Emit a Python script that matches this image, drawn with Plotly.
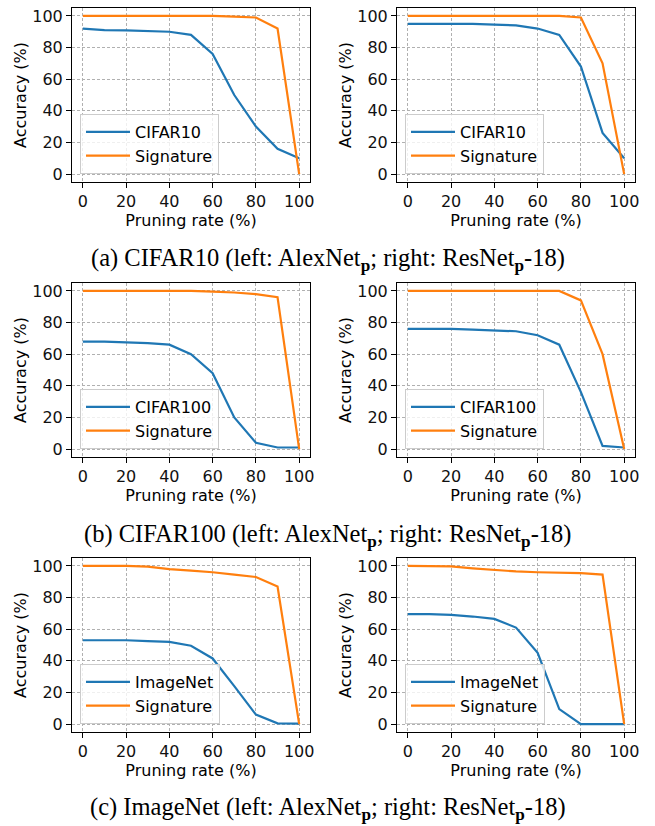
import plotly.graph_objects as go

W, H = 655, 826

# ---------------- data ----------------
pruning_rate = [0, 10, 20, 30, 40, 50, 60, 70, 80, 90, 100]

cifar10_alex_task = [92, 91, 90.8, 90.5, 90, 88, 76, 50, 30, 16, 10]
cifar10_alex_sig = [100, 100, 100, 100, 100, 100, 100, 99.5, 99, 92, 0]
cifar10_res_task = [95, 95, 95, 95, 94.5, 94, 92, 88, 68, 26, 10]
cifar10_res_sig = [100, 100, 100, 100, 100, 100, 100, 100, 99, 70, 0]

cifar100_alex_task = [68, 68, 67.5, 67, 66, 60, 48, 20, 4, 1, 1]
cifar100_alex_sig = [100, 100, 100, 100, 100, 100, 99.5, 99, 98, 96, 0]
cifar100_res_task = [76, 76, 76, 75.5, 75, 74.5, 72, 66, 36, 2, 1]
cifar100_res_sig = [100, 100, 100, 100, 100, 100, 100, 100, 94, 60, 0]

imagenet_alex_task = [53, 53, 53, 52.5, 52, 49.5, 41.5, 24, 6, 0.5, 0.3]
imagenet_alex_sig = [100, 100, 100, 99.5, 98, 97, 96, 94.5, 93, 87, 0]
imagenet_res_task = [69.5, 69.5, 69, 68, 66.5, 61, 45, 9.5, 0, 0, 0]
imagenet_res_sig = [100, 100, 99.7, 98.5, 97.5, 96.5, 96, 95.8, 95.5, 94.5, 0]

task_names = ["CIFAR10", "CIFAR100", "ImageNet"]
signature_name = "Signature"
x_ticks = [0, 20, 40, 60, 80, 100]
y_ticks = [0, 20, 40, 60, 80, 100]
x_title = "Pruning rate (%)"
y_title = "Accuracy (%)"
captions = [
    "(a) CIFAR10 (left: AlexNet<sub><b>p</b></sub>; right: ResNet<sub><b>p</b></sub>-18)",
    "(b) CIFAR100 (left: AlexNet<sub><b>p</b></sub>; right: ResNet<sub><b>p</b></sub>-18)",
    "(c) ImageNet (left: AlexNet<sub><b>p</b></sub>; right: ResNet<sub><b>p</b></sub>-18)",
]

panels = [
    (cifar10_alex_task, cifar10_alex_sig, 0),
    (cifar10_res_task, cifar10_res_sig, 0),
    (cifar100_alex_task, cifar100_alex_sig, 1),
    (cifar100_res_task, cifar100_res_sig, 1),
    (imagenet_alex_task, imagenet_alex_sig, 2),
    (imagenet_res_task, imagenet_res_sig, 2),
]

# ---------------- layout geometry (pixels) ----------------
col_px = [(72, 310), (397, 635)]
row_px = [(8, 182), (283, 457), (558, 732)]
caption_y_px = [260, 535, 808]

BLUE = "#1f77b4"
ORANGE = "#ff7f0e"
FONT = "DejaVu Sans"
FS = 16

fig = go.Figure()
layout = dict(
    width=W, height=H,
    margin=dict(l=0, r=0, t=0, b=0),
    paper_bgcolor="white", plot_bgcolor="white",
    font=dict(family=FONT, size=FS, color="black"),
    showlegend=True,
)

for i, (task, sig, row) in enumerate(panels):
    n = i + 1
    col = i % 2
    xs = "" if n == 1 else str(n)
    leg = "legend" if n == 1 else f"legend{n}"
    fig.add_trace(go.Scatter(
        x=pruning_rate, y=task, mode="lines", name=task_names[row],
        line=dict(color=BLUE, width=2.2), xaxis=f"x{xs}", yaxis=f"y{xs}",
        legend=leg))
    fig.add_trace(go.Scatter(
        x=pruning_rate, y=sig, mode="lines", name=signature_name,
        line=dict(color=ORANGE, width=2.2), xaxis=f"x{xs}", yaxis=f"y{xs}",
        legend=leg))

    x0, x1 = col_px[col]
    y0, y1 = row_px[row]
    common = dict(
        showgrid=True, gridcolor="#b0b0b0", griddash="3px,2px", gridwidth=1,
        showline=True, linecolor="black", linewidth=1.1, mirror=True,
        ticks="outside", ticklen=5, tickwidth=1.1, tickcolor="black",
        tickfont=dict(family=FONT, size=FS, color="#111111"),
        zeroline=False, automargin=False, fixedrange=True,
    )
    layout[f"xaxis{xs}"] = dict(
        common, domain=[x0 / W, x1 / W], range=[-5, 105], tickvals=x_ticks,
        anchor=f"y{xs}",
        title=dict(text=x_title, standoff=2, font=dict(family=FONT, size=FS)))
    layout[f"yaxis{xs}"] = dict(
        common, domain=[1 - y1 / H, 1 - y0 / H], range=[-5, 105], tickvals=y_ticks,
        anchor=f"x{xs}",
        title=dict(text=y_title, standoff=1, font=dict(family=FONT, size=FS)))
    layout[leg] = dict(
        x=(x0 + 8) / W, y=1 - (y1 - 8) / H, xanchor="left", yanchor="bottom",
        xref="paper", yref="paper",
        bgcolor="rgba(255,255,255,0.8)", bordercolor="#cccccc", borderwidth=1,
        font=dict(family=FONT, size=FS, color="black"),
        tracegroupgap=0, itemwidth=44,
    )

annotations = []
for r, cap in enumerate(captions):
    annotations.append(dict(
        text=cap, x=0.5, y=1 - caption_y_px[r] / H, xref="paper", yref="paper",
        xanchor="center", yanchor="middle", showarrow=False,
        font=dict(family="Liberation Serif", size=24.5, color="black")))
layout["annotations"] = annotations

fig.update_layout(**layout)
fig.write_html("out.html")
